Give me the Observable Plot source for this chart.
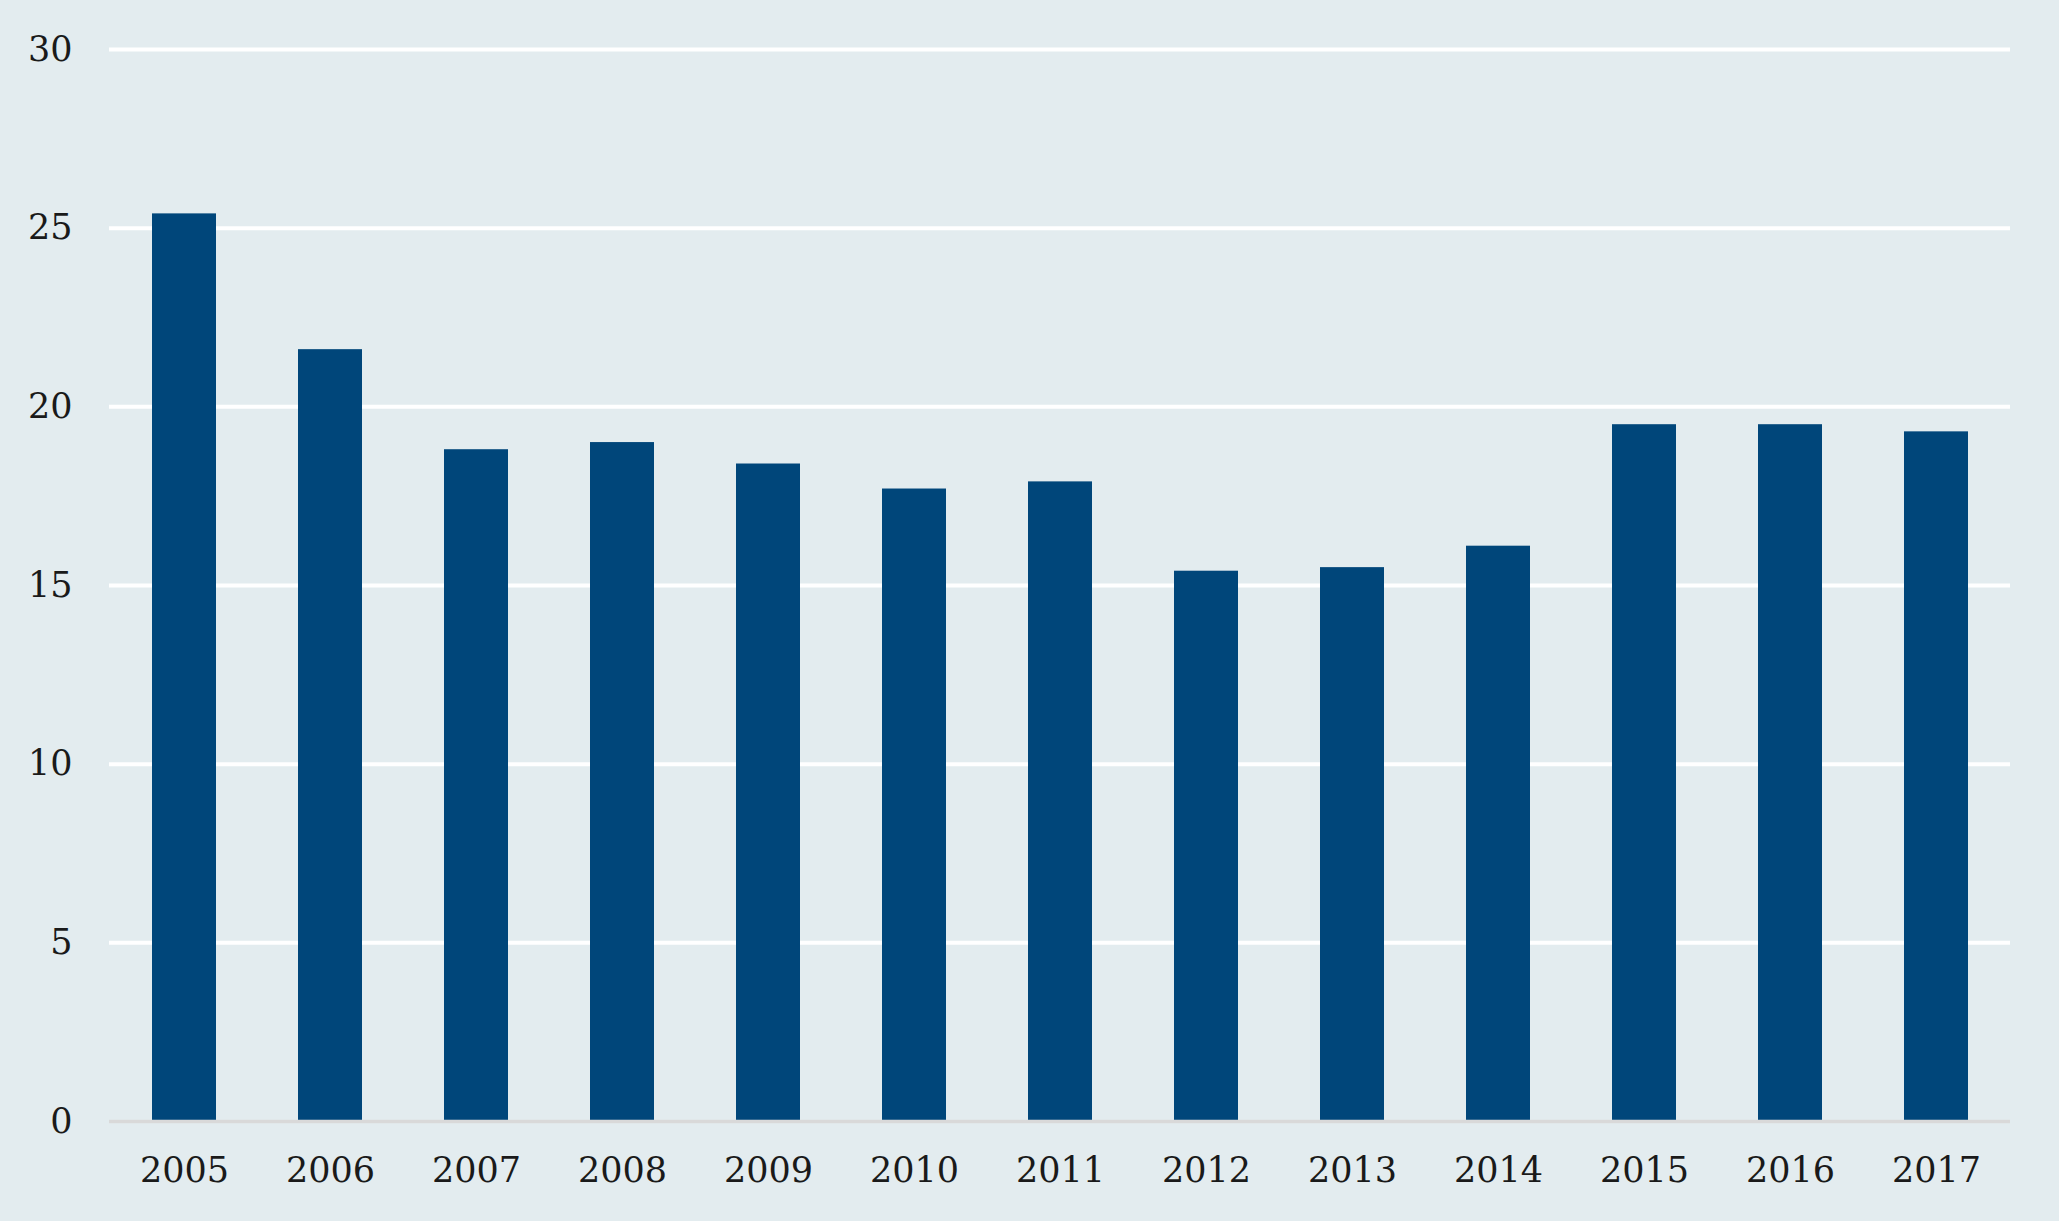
<!DOCTYPE html>
<html>
<head>
<meta charset="utf-8">
<script src="https://cdn.jsdelivr.net/npm/d3@7"></script>
<script src="https://cdn.jsdelivr.net/npm/@observablehq/plot@0.6"></script>
<style>
  html, body { margin: 0; padding: 0; background: #e3ecef; }
  #chart svg { display: block; }
</style>
</head>
<body>
<div id="chart"></div>
<script>
const years = ["2005","2006","2007","2008","2009","2010","2011","2012","2013","2014","2015","2016","2017"];
const values = [25.4, 21.6, 18.8, 19.0, 18.4, 17.7, 17.9, 15.4, 15.5, 16.1, 19.5, 19.5, 19.3];
const yTicks = [0, 5, 10, 15, 20, 25, 30];

const data = years.map((year, i) => ({year, value: values[i]}));

const chart = Plot.plot({
  width: 2059,
  height: 1221,
  marginTop: 49,
  marginBottom: 100,
  marginLeft: 109,
  marginRight: 49,
  style: {
    background: "#e3ecef",
    fontFamily: "DejaVu Serif",
    fontSize: "35px",
    color: "#1a1a1a"
  },
  x: {domain: years, paddingInner: 0.562, paddingOuter: 0.281, label: null},
  y: {domain: [0, 30], ticks: yTicks, label: null},
  marks: [
    Plot.ruleY(yTicks.filter(d => d !== 0), {stroke: "#ffffff", strokeWidth: 4}),
    Plot.barY(data, {x: "year", y: "value", fill: "#00467a"}),
    Plot.ruleY([0], {stroke: "#d9d9d9", strokeWidth: 3.5}),
    Plot.axisY(yTicks, {tickSize: 0, tickPadding: 37, fill: "#1a1a1a", fontSize: 35}),
    Plot.axisX({tickSize: 0, tickPadding: 36, fill: "#1a1a1a", fontSize: 35})
  ]
});
document.getElementById("chart").appendChild(chart);
</script>
</body>
</html>
